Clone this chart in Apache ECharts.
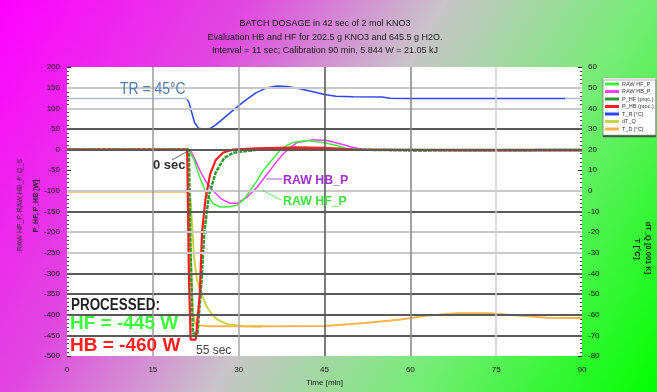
<!DOCTYPE html>
<html>
<head>
<meta charset="utf-8">
<script src="https://cdn.jsdelivr.net/npm/echarts@6/dist/echarts.min.js"></script>
<style>
  html, body { margin: 0; padding: 0; }
  #chart { width: 657px; height: 392px; }
</style>
</head>
<body>
<div id="chart"></div>
<script>
// ---- Chart text ----
const titleLines = [
  'BATCH DOSAGE in 42 sec of 2 mol KNO3',
  'Evaluation HB and HF for 202.5 g KNO3 and 645.5 g H2O.',
  'Interval = 11 sec; Calibration 90 min, 5.844 W = 21.05 kJ'
];
const xAxisTitle = 'Time [min]';
const leftAxisTitle = ['RAW HF_P, RAW HB_P, Q_S', 'P_HF, P_HB [W]'];
const rightAxisTitle = ['dT_Q [0.001 K]', 'T [°C]'];

// ---- Axis ranges ----
const xRange = { min: 0, max: 90, step: 15 };
const powerRange = { min: -500, max: 200, step: 50 };
const tempRange = { min: -80, max: 60, step: 10 };

// ---- Grid line values ----
const lightRows = [150, 100, -100, -200, -250];
const darkRows = [50, 0, -150, -300, -350, -400, -450];
const columnLines = [15, 30, 45, 60, 75];
const columnColors = ['#9a9a9a', '#a8a8a8', '#505050', '#858585', '#cfcfcf'];

// ---- Series data: [time (min), value] ----
const rawHF = [
  [0, 0], [21.3, 0], [22.2, -25], [23.2, -67], [24.3, -105], [25.5, -130], [26.7, -139],
  [28.2, -139], [29.7, -135], [31, -120], [32, -99], [33.2, -75], [34.3, -50], [35.8, -25],
  [37.2, -2], [38.4, 10], [39.5, 17], [41.9, 22], [44.7, 17], [47.2, 10], [48.9, 2], [51, 0], [90, 0]
];
const rawHB = [
  [0, 0], [21.4, 0], [21.8, -7], [22.5, -28], [23.2, -50], [24.3, -78], [25.5, -99], [27, -120],
  [28.5, -130], [29.7, -130], [31.5, -115], [33.2, -91], [35.5, -50], [36.7, -28], [37.8, -10],
  [39, 5], [40.2, 17], [43, 24], [45.4, 22], [47.7, 14], [50, 5], [52, 0], [90, 0]
];
const procHF = [
  [0, 0], [21.3, 0], [21.6, -250], [22, -445], [22.8, -445], [23.5, -320], [24, -200], [24.8, -110],
  [26, -55], [27.5, -20], [29, -8], [31, -4], [35, 2], [40, 5], [45, 3], [50, 0], [60, -2], [90, -1]
];
const procHB = [
  [0, 0], [21.0, 0], [21.3, -300], [21.6, -460], [22.5, -460], [23.2, -350], [23.6, -200],
  [24.2, -120], [25, -60], [26, -25], [27.3, -7], [29, 0], [33, 3], [40, 5], [45, 4], [50, 0],
  [70, -2], [90, -2]
];
const reactorTemp = [
  [0, 44.8], [20.8, 44.8], [21.3, 43], [21.8, 38], [22.3, 33], [23, 30.3], [24, 29.8], [25, 30.2],
  [26, 32], [27.5, 35.5], [29, 39], [31, 43.5], [33, 47.5], [35, 50], [36.7, 50.8], [38.5, 50.6],
  [40.5, 49.6], [43, 48], [45, 46.7], [47, 45.8], [50, 45.6], [55, 45.5], [56.5, 44.9], [60, 44.8],
  [70, 44.7], [80, 44.7], [87, 44.7], [90, 44.7]
];
const deltaQ = [
  [21.6, -120], [22.2, -260], [22.7, -315], [23.5, -350], [24.4, -380], [25.3, -398],
  [26.2, -411], [28, -423], [31, -428], [34, -429]
];
const dosingTemp = [
  [0, -102], [21.2, -102], [21.6, -250], [22, -400], [22.5, -425], [25, -428], [35, -428],
  [45, -427], [52, -420], [58, -412], [63, -402], [68, -396], [74, -396], [79, -402],
  [84, -407], [90, -408]
];

const FONT = '"Liberation Sans", Arial, sans-serif';
const chart = echarts.init(document.getElementById('chart'), null, { renderer: 'canvas' });

const gridMarks = []
  .concat(lightRows.map(v => ({ yAxis: v, lineStyle: { color: '#c9c9c9', width: 2, type: 'solid' } })))
  .concat(darkRows.map(v => ({ yAxis: v, lineStyle: { color: '#5a5a5a', width: 2, type: 'solid' } })))
  .concat(columnLines.map((v, i) => ({ xAxis: v, lineStyle: { color: columnColors[i], width: 1.5, type: 'solid' } })));

function lineSeries(name, data, color, width, extra) {
  return Object.assign({
    name, type: 'line', data, showSymbol: false, symbol: 'none', z: 3,
    lineStyle: { color, width }, itemStyle: { color }, animation: false
  }, extra || {});
}

const option = {
  animation: false,
  backgroundColor: new echarts.graphic.LinearGradient(0, 0, 1, 1, [
    { offset: 0, color: '#ff00ff' },
    { offset: 0.28, color: '#e048e0' },
    { offset: 0.5, color: '#c9c4c9' },
    { offset: 0.72, color: '#78ec78' },
    { offset: 1, color: '#00ff00' }
  ]),
  title: {
    text: titleLines.join('\n'),
    left: 320, top: 12, textAlign: 'center',
    textStyle: { fontFamily: FONT, fontSize: 9, fontWeight: 'normal', color: '#202020', lineHeight: 13.5 }
  },
  grid: { left: 67, right: 75, top: 67, bottom: 33, backgroundColor: '#ffffff', show: true, borderWidth: 0 },
  legend: {
    orient: 'vertical', left: 603, top: 78, itemGap: 1.5, itemWidth: 14, itemHeight: 3,
    padding: [3, 2, 3, 2], backgroundColor: '#ffffff', borderColor: '#9a9a9a', borderWidth: 0.5,
    shadowColor: 'rgba(60,60,60,0.8)', shadowOffsetY: 2, shadowBlur: 0,
    textStyle: { fontFamily: FONT, fontSize: 5.5, color: '#333', padding: [0, 0, 0, -2] },
    data: [
      { name: 'RAW HF_P', icon: 'rect' }, { name: 'RAW HB_P', icon: 'rect' },
      { name: 'P_HF (proc.)', icon: 'rect' }, { name: 'P_HB (proc.)', icon: 'rect' },
      { name: 'T_R [°C]', icon: 'rect', itemStyle: { color: '#2a46ee' } }, { name: 'dT_Q', icon: 'rect' }, { name: 'T_D [°C]', icon: 'rect' }
    ]
  },
  xAxis: {
    type: 'value', min: xRange.min, max: xRange.max, interval: xRange.step,
    name: xAxisTitle, nameLocation: 'middle', nameGap: 22,
    nameTextStyle: { fontFamily: FONT, fontSize: 8, color: '#222' },
    axisLine: { show: false }, axisTick: { show: false }, splitLine: { show: false },
    axisLabel: { fontFamily: FONT, fontSize: 8, color: '#1a1a1a', margin: 10 }
  },
  yAxis: [
    {
      type: 'value', min: powerRange.min, max: powerRange.max, interval: powerRange.step,
      axisLine: { show: false }, splitLine: { show: false },
      axisTick: { show: true, inside: true, length: 4, lineStyle: { color: '#222' } },
      minorTick: { show: true, splitNumber: 5, length: 2, lineStyle: { color: '#444' } },
      axisLabel: { fontFamily: FONT, fontSize: 8, color: '#1a1a1a', margin: 7 }
    },
    {
      type: 'value', min: tempRange.min, max: tempRange.max, interval: tempRange.step, position: 'right',
      axisLine: { show: false }, splitLine: { show: false },
      axisTick: { show: true, inside: true, length: 4, lineStyle: { color: '#222' } },
      minorTick: { show: true, splitNumber: 5, length: 2, lineStyle: { color: '#444' } },
      axisLabel: { fontFamily: FONT, fontSize: 8, color: '#1a1a1a', margin: 6 }
    }
  ],
  visualMap: {
    show: false, type: 'piecewise', dimension: 0, seriesIndex: 7,
    pieces: [
      { lt: 21, color: '#a9b7ef' },
      { gte: 21, lte: 87, color: '#2a46ee' },
      { gt: 87, color: '#a9b7ef' }
    ]
  },
  series: [
    {
      name: 'grid', type: 'line', data: [], z: 1, silent: true,
      markLine: { silent: true, symbol: 'none', label: { show: false }, animation: false, data: gridMarks }
    },
    lineSeries('dT_Q', deltaQ, '#c6d44a', 2),
    lineSeries('T_D [°C]', dosingTemp, '#ffb24a', 2),
    lineSeries('RAW HB_P', rawHB, '#ff3cff', 1.5),
    lineSeries('RAW HF_P', rawHF, '#3cf03c', 1.5),
    lineSeries('P_HF (proc.)', procHF, '#2a9a2a', 2.5, { lineStyle: { color: '#2a9a2a', width: 2.5, type: [4, 1] } }),
    lineSeries('P_HB (proc.)', procHB, '#ff1e1e', 2.2),
    {
      name: 'T_R [°C]', type: 'line', data: reactorTemp, yAxisIndex: 1, showSymbol: false, symbol: 'none',
      z: 3, lineStyle: { width: 1.5 }, animation: false
    }
  ],
  graphic: [
    // axis titles
    { type: 'text', x: 20, y: 205, rotation: Math.PI / 2,
      style: { text: leftAxisTitle[0], font: '7px ' + FONT, fill: '#3a2a3a', textAlign: 'center', textVerticalAlign: 'middle' } },
    { type: 'text', x: 36, y: 206, rotation: Math.PI / 2,
      style: { text: leftAxisTitle[1], font: 'bold 7px ' + FONT, fill: '#2a1a2a', textAlign: 'center', textVerticalAlign: 'middle' } },
    { type: 'text', x: 648, y: 248, rotation: -Math.PI / 2,
      style: { text: rightAxisTitle[0], font: 'bold 7.5px ' + FONT, fill: '#102010', textAlign: 'center', textVerticalAlign: 'middle' } },
    { type: 'text', x: 637, y: 249, rotation: -Math.PI / 2,
      style: { text: rightAxisTitle[1], font: 'bold 8px ' + FONT, fill: '#102010', textAlign: 'center', textVerticalAlign: 'middle' } },
    // annotations
    { type: 'text', x: 120, y: 89, scaleX: 0.82, z: 10,
      style: { text: 'TR = 45°C', font: '17px ' + FONT, fill: '#4e7cae', textVerticalAlign: 'middle' } },
    { type: 'line', z: 10, shape: { x1: 172, y1: 160, x2: 188, y2: 151 }, style: { stroke: '#404040', lineWidth: 0.8 } },
    { type: 'text', x: 153, y: 165, z: 10,
      style: { text: '0 sec', font: 'bold 13px ' + FONT, fill: '#303030', textVerticalAlign: 'middle' } },
    { type: 'line', z: 10, shape: { x1: 266, y1: 179, x2: 282, y2: 179 }, style: { stroke: '#a030d0', lineWidth: 0.8 } },
    { type: 'text', x: 283, y: 180, z: 10, scaleX: 0.95,
      style: { text: 'RAW HB_P', font: 'bold 13px ' + FONT, fill: '#a030d0', textVerticalAlign: 'middle' } },
    { type: 'line', z: 10, shape: { x1: 262, y1: 190, x2: 281, y2: 200 }, style: { stroke: '#40e040', lineWidth: 0.8 } },
    { type: 'text', x: 283, y: 201, z: 10, scaleX: 0.95,
      style: { text: 'RAW HF_P', font: 'bold 13px ' + FONT, fill: '#40e040', textVerticalAlign: 'middle' } },
    { type: 'text', x: 71, y: 306, z: 10, scaleX: 0.84,
      style: { text: 'PROCESSED:', font: 'bold 16px ' + FONT, fill: '#222222', textVerticalAlign: 'middle' } },
    { type: 'text', x: 70, y: 324, z: 10,
      style: { text: 'HF = -445 W', font: 'bold 19px ' + FONT, fill: '#3cff3c', textVerticalAlign: 'middle' } },
    { type: 'text', x: 70, y: 346, z: 10,
      style: { text: 'HB = -460 W', font: 'bold 19px ' + FONT, fill: '#ff2020', textVerticalAlign: 'middle' } },
    { type: 'text', x: 196, y: 351, z: 10,
      style: { text: '55 sec', font: '12px ' + FONT, fill: '#404040', textVerticalAlign: 'middle' } }
  ]
};

chart.setOption(option);
</script>
</body>
</html>
